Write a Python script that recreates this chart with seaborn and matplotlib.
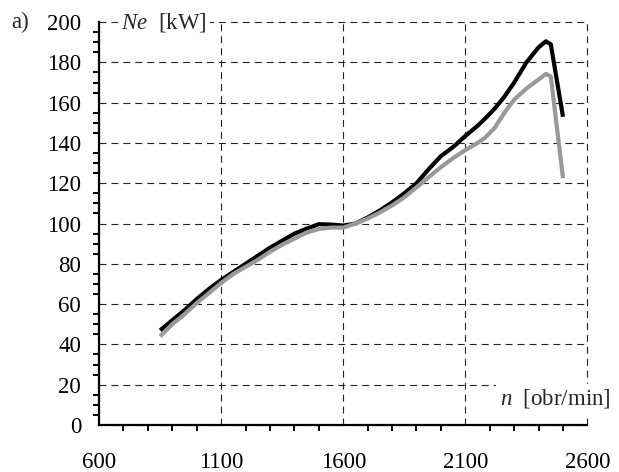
import matplotlib
matplotlib.use("Agg")
import matplotlib.pyplot as plt
from matplotlib.ticker import MultipleLocator
import numpy as np
import pandas as pd
import seaborn as sns

# Engine speed [obr/min] and effective power Ne [kW] for two measurement runs
rpm = [850, 900, 950, 1000, 1050, 1100, 1150, 1200, 1250, 1300, 1350, 1400,
       1450, 1500, 1550, 1600, 1650, 1700, 1750, 1800, 1850, 1900, 1950, 2000,
       2050, 2100, 2150, 2180, 2220, 2260, 2300, 2350, 2400, 2430, 2450, 2500]
ne_black = [47, 52, 57, 62.5, 67.5, 72, 76, 80, 84, 88, 91.5, 95,
            97.5, 99.7, 99.5, 99, 100, 103, 106.5, 110.5, 115, 120, 127, 133.5,
            138, 143.5, 148.5, 152, 157, 163, 170, 180, 187.5, 190.5, 189, 153]
ne_gray = [44, 50, 55, 60.5, 65.5, 70.5, 75, 78.5, 82, 86, 89.5, 92.5,
           95.5, 97.3, 98, 98, 100, 102.5, 105.5, 109, 113, 118, 123, 128,
           132.5, 136.5, 140, 142.5, 147.5, 155, 161.5, 167, 171.5, 174.3, 173, 122.5]
series_names = ["A", "B"]
series_colors = ["#000000", "#999999"]

x_ticks = [600, 1100, 1600, 2100, 2600]
y_ticks = [0, 20, 40, 60, 80, 100, 120, 140, 160, 180, 200]

df = pd.DataFrame({
    "n": rpm + rpm,
    "Ne": ne_black + ne_gray,
    "seria": [series_names[0]] * len(rpm) + [series_names[1]] * len(rpm),
})

sns.set_style("white")
plt.rcParams["font.family"] = ["Liberation Serif", "DejaVu Serif"]
plt.rcParams["mathtext.fontset"] = "custom"
plt.rcParams["mathtext.it"] = "Liberation Serif:italic"
plt.rcParams["mathtext.rm"] = "Liberation Serif"
plt.rcParams["lines.scale_dashes"] = False

FS = 16.5

fig = plt.figure(figsize=(6.19, 4.72), dpi=100)
ax = fig.add_axes([0.160, 0.0996, 0.789, 0.8535])

sns.lineplot(data=df, x="n", y="Ne", hue="seria", palette=series_colors,
             linewidth=3.0, legend=False, ax=ax, zorder=3,
             solid_capstyle="butt", solid_joinstyle="round")

ax.set_xlim(600, 2600)
ax.set_ylim(0, 200)
ax.set_xticks(x_ticks)
ax.set_yticks(y_ticks)
ax.xaxis.set_minor_locator(MultipleLocator(100))
ax.yaxis.set_minor_locator(MultipleLocator(5))

ax.grid(True, which="major", color="#222222", linewidth=0.8,
        linestyle=(0, (5.0, 3.6)), clip_on=False)
ax.set_axisbelow(True)

for side in ("top", "right"):
    ax.spines[side].set_visible(False)
for side in ("left", "bottom"):
    ax.spines[side].set_color("black")
    ax.spines[side].set_linewidth(1.6)

ax.tick_params(which="major", direction="inout", length=10.8, width=1.6,
               color="black", labelsize=FS, labelcolor="black")
ax.tick_params(axis="x", which="major", pad=14.0)
ax.tick_params(axis="y", which="major", pad=7.5)
ax.tick_params(which="minor", direction="out", length=4.2, width=1.4,
               color="black", bottom=True, left=True)

ax.set_xlabel("")
ax.set_ylabel("")

box = dict(facecolor="white", edgecolor="none", pad=2.5)
ax.text(0.045, 1.0, r"$Ne$  [kW]", transform=ax.transAxes, fontsize=FS,
        ha="left", va="center", bbox=box, zorder=5, clip_on=False)
ax.text(1.047, 0.065, r"$n$  [obr/min]", transform=ax.transAxes, fontsize=FS,
        ha="right", va="center", bbox=box, zorder=5, clip_on=False)
fig.text(0.018, 0.953, "a)", fontsize=FS, ha="left", va="center")

fig.savefig("out.png", dpi=100)
